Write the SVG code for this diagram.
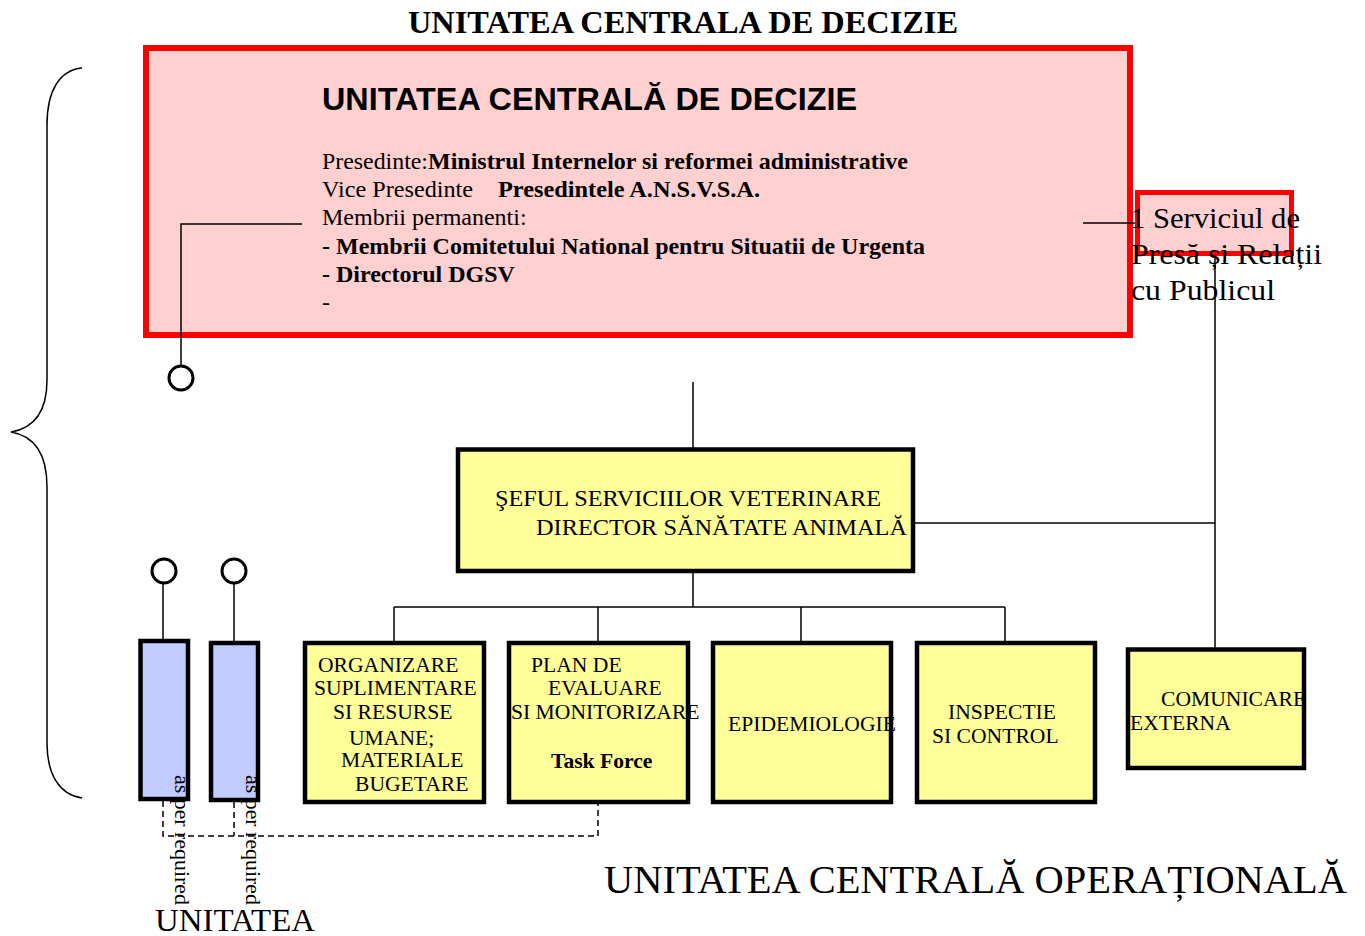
<svg xmlns="http://www.w3.org/2000/svg" width="1365" height="936" viewBox="0 0 1365 936">
<style>
.serif{font-family:"Liberation Serif","Times New Roman",serif;fill:#000}
.sans{font-family:"Liberation Sans",Arial,sans-serif;fill:#000}
.b{font-weight:bold}
.ln{stroke:#000;stroke-width:1.5;fill:none}
.dash{stroke:#000;stroke-width:1.5;fill:none;stroke-dasharray:6,4}
.ybox{fill:#FFFF99;stroke:#000;stroke-width:4.5}
.bbox{fill:#C0CCFF;stroke:#000;stroke-width:4.5}
.circ{fill:#fff;stroke:#000;stroke-width:3}
.t21{font-size:21.6px}
</style>
<rect width="1365" height="936" fill="#fff"/>

<text class="serif b" x="408" y="33" font-size="31" textLength="550" lengthAdjust="spacingAndGlyphs">UNITATEA CENTRALA DE DECIZIE</text>

<path class="ln" d="M82,68 C60,70 47,90 47,125 L47,380 C47,410 35,428 11,432 C35,436 47,455 47,487 L47,743 C47,775 60,795 82,798"/>

<g id="decizie">
<rect x="146" y="48" width="984" height="287" fill="#FFD0D0" stroke="#FF0000" stroke-width="6"/>
<text class="sans b" x="322" y="110" font-size="32" textLength="535" lengthAdjust="spacingAndGlyphs">UNITATEA CENTRALĂ DE DECIZIE</text>
<g class="serif" font-size="24">
<text x="322" y="169"><tspan textLength="106" lengthAdjust="spacingAndGlyphs">Presedinte:</tspan><tspan class="b" x="428" textLength="480" lengthAdjust="spacingAndGlyphs">Ministrul Internelor si reformei administrative</tspan></text>
<text x="322" y="197"><tspan textLength="151" lengthAdjust="spacingAndGlyphs">Vice Presedinte</tspan><tspan class="b" x="498" textLength="262" lengthAdjust="spacingAndGlyphs">Presedintele A.N.S.V.S.A.</tspan></text>
<text x="322" y="225">Membrii permanenti:</text>
<text class="b" x="322" y="254" textLength="603" lengthAdjust="spacingAndGlyphs">- Membrii Comitetului National pentru Situatii de Urgenta</text>
<text class="b" x="322" y="282">- Directorul DGSV</text>
<text x="322" y="310">-</text>
</g>
</g>

<g id="presa">
<rect x="1137.5" y="192.5" width="154" height="61" fill="#FFD0D0" stroke="#FF0000" stroke-width="5"/>
<g class="serif" font-size="29">
<text x="1130" y="228" textLength="170" lengthAdjust="spacingAndGlyphs">1 Serviciul de</text>
<text x="1131" y="264" textLength="191" lengthAdjust="spacingAndGlyphs">Presă și Relații</text>
<text x="1131" y="300" textLength="144" lengthAdjust="spacingAndGlyphs">cu Publicul</text>
</g>
</g>

<g id="connectors">
<path class="ln" d="M302,224 H181 V366"/>
<path class="ln" d="M1083,223 H1135"/>
<path class="ln" d="M1215,258 V648"/>
<path class="ln" d="M913,523 H1215"/>
<path class="ln" d="M693,382 V471"/>
<path class="ln" d="M693,573 V607 M394,607 H1005 M394,607 V642 M598,607 V642 M801,607 V642 M1005,607 V642"/>
<path class="ln" d="M163,583 V641 M234,583 V643"/>
<path class="dash" d="M163,801 V836 H598 V804 M234,802 V836"/>
</g>

<g id="cerc1"><circle class="circ" cx="181" cy="378" r="12"/></g>
<g id="cerc2"><circle class="circ" cx="164" cy="571" r="12"/></g>
<g id="cerc3"><circle class="circ" cx="234" cy="571" r="12"/></g>

<g id="sef">
<rect class="ybox" x="458" y="449.5" width="455" height="121.5"/>
<text class="serif" font-size="24" x="495" y="506" textLength="386" lengthAdjust="spacingAndGlyphs">ŞEFUL SERVICIILOR VETERINARE</text>
<text class="serif" font-size="24" x="536" y="535" textLength="371" lengthAdjust="spacingAndGlyphs">DIRECTOR SĂNĂTATE ANIMALĂ</text>
</g>

<g id="blue1">
<rect class="bbox" x="140.5" y="641" width="47.5" height="158"/>
<text class="serif" font-size="20" transform="translate(175,775) rotate(90)" textLength="130" lengthAdjust="spacingAndGlyphs">as  per required</text>
</g>
<g id="blue2">
<rect class="bbox" x="211" y="643" width="47" height="157"/>
<text class="serif" font-size="20" transform="translate(246,775) rotate(90)" textLength="130" lengthAdjust="spacingAndGlyphs">as  per required</text>
</g>

<g id="organizare">
<rect class="ybox" x="305" y="643" width="179" height="159"/>
<g class="serif t21">
<text x="318" y="672">ORGANIZARE</text>
<text x="314" y="695">SUPLIMENTARE</text>
<text x="333" y="719">SI RESURSE</text>
<text x="349" y="745">UMANE;</text>
<text x="341" y="767">MATERIALE</text>
<text x="355" y="791">BUGETARE</text>
</g>
</g>

<g id="plan">
<rect class="ybox" x="509" y="643" width="179" height="159"/>
<g class="serif t21">
<text x="531" y="672">PLAN DE</text>
<text x="548" y="695">EVALUARE</text>
<text x="511" y="719">SI MONITORIZARE</text>
<text class="b" x="551" y="768">Task Force</text>
</g>
</g>

<g id="epidemiologie">
<rect class="ybox" x="713" y="643" width="178" height="159"/>
<text class="serif t21" x="728" y="731">EPIDEMIOLOGIE</text>
</g>

<g id="inspectie">
<rect class="ybox" x="917" y="643" width="178" height="159"/>
<text class="serif t21" x="948" y="719">INSPECTIE</text>
<text class="serif t21" x="932" y="743">SI CONTROL</text>
</g>

<g id="comunicare">
<rect class="ybox" x="1128" y="649.5" width="176" height="118.5"/>
<text class="serif t21" x="1161" y="706">COMUNICARE</text>
<text class="serif t21" x="1130" y="730">EXTERNA</text>
</g>

<text class="serif" font-size="40" x="604" y="893" textLength="743" lengthAdjust="spacingAndGlyphs">UNITATEA CENTRALĂ OPERAȚIONALĂ</text>
<text class="serif" font-size="31" x="155" y="931" textLength="160" lengthAdjust="spacingAndGlyphs">UNITATEA</text>
</svg>
